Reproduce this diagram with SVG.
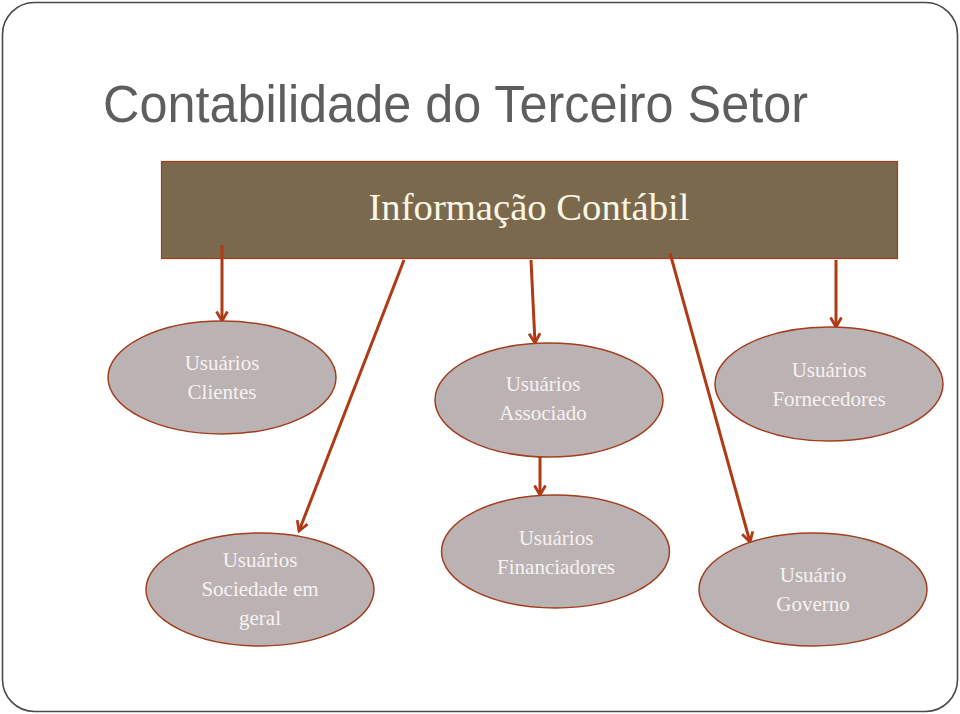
<svg xmlns="http://www.w3.org/2000/svg" width="960" height="714" viewBox="0 0 960 714">
<style>
.node ellipse{fill:#bbb2b3;stroke:#a23f1f;stroke-width:1.5}
.node text{font-family:"Liberation Serif","DejaVu Serif",serif;font-size:21px;fill:#f7f2f2;text-anchor:middle}
.conn line{stroke:#b03a15;stroke-width:3;fill:none}
</style>
<defs>
<marker id="ah" markerWidth="14" markerHeight="14" viewBox="0 0 14 14" refX="11.5" refY="7" orient="auto" markerUnits="userSpaceOnUse">
<path d="M2,1.5 L11.5,7 L2,12.5" fill="none" stroke="#b03a15" stroke-width="2.8" stroke-linejoin="miter"/>
</marker>
</defs>
<rect x="2.5" y="2.5" width="955" height="709" rx="32" ry="32" fill="#ffffff" stroke="#4a4a4a" stroke-width="1.6"/>
<text x="103" y="122" font-family="'Liberation Sans Narrow','Liberation Sans',Arial,sans-serif" font-size="51" fill="#5e5e5e" textLength="705" lengthAdjust="spacingAndGlyphs">Contabilidade do Terceiro Setor</text>
<g id="header">
<rect x="161.5" y="161.5" width="736" height="97" fill="#7a694c" stroke="#b03a15" stroke-width="1.2"/>
<text x="529" y="220" font-family="'Liberation Serif','DejaVu Serif',serif" font-size="38" fill="#fbf6e6" text-anchor="middle" textLength="321" lengthAdjust="spacingAndGlyphs">Informação Contábil</text>
</g>
<g id="connectors" class="conn">
<line x1="222" y1="245" x2="222" y2="321" marker-end="url(#ah)"/>
<line x1="404" y1="260" x2="299" y2="531" marker-end="url(#ah)"/>
<line x1="531" y1="260" x2="535" y2="343" marker-end="url(#ah)"/>
<line x1="670" y1="253" x2="750" y2="542" marker-end="url(#ah)"/>
<line x1="836" y1="260" x2="836" y2="327" marker-end="url(#ah)"/>
<line x1="540" y1="457" x2="540" y2="495" marker-end="url(#ah)"/>
</g>
<g id="clientes" class="node">
<ellipse cx="222" cy="377.5" rx="114" ry="56.5"/>
<text x="222" y="370">Usuários</text>
<text x="222" y="399">Clientes</text>
</g>
<g id="associado" class="node">
<ellipse cx="549" cy="400" rx="114" ry="57"/>
<text x="543" y="391">Usuários</text>
<text x="543" y="420">Associado</text>
</g>
<g id="fornecedores" class="node">
<ellipse cx="829" cy="384" rx="114" ry="57"/>
<text x="829" y="377">Usuários</text>
<text x="829" y="406">Fornecedores</text>
</g>
<g id="sociedade" class="node">
<ellipse cx="260" cy="589.5" rx="114" ry="56.5"/>
<text x="260" y="567">Usuários</text>
<text x="260" y="596">Sociedade em</text>
<text x="260" y="625">geral</text>
</g>
<g id="financiadores" class="node">
<ellipse cx="555.5" cy="551.5" rx="114" ry="56.5"/>
<text x="556" y="545">Usuários</text>
<text x="556" y="574">Financiadores</text>
</g>
<g id="governo" class="node">
<ellipse cx="813" cy="589.5" rx="114" ry="56.5"/>
<text x="813" y="582">Usuário</text>
<text x="813" y="611">Governo</text>
</g>
</svg>
